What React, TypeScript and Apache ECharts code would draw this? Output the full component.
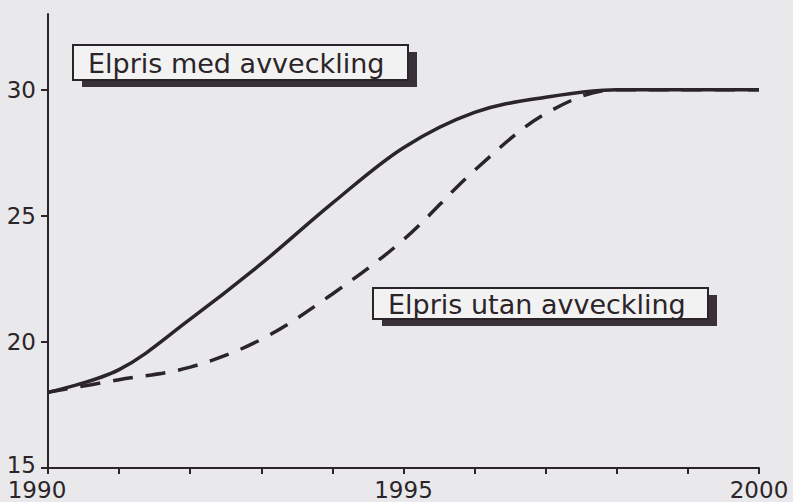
import React, { useEffect, useRef } from "react";
import * as echarts from "echarts";

const years = [1990, 1991, 1992, 1993, 1994, 1995, 1996, 1997, 1998, 1999, 2000];
const medAvveckling = [18.0, 18.9, 20.9, 23.1, 25.5, 27.7, 29.1, 29.7, 30.0, 30.0, 30.0];
const utanAvveckling = [18.0, 18.5, 19.0, 20.1, 21.9, 24.05, 26.8, 29.05, 30.0, 30.0, 30.0];
const yTickLabels = [15, 20, 25, 30];
const xTickLabels = [1990, 1995, 2000];
const labelMed = "Elpris med avveckling";
const labelUtan = "Elpris utan avveckling";

const INK = "#2b2429";
const BG = "#e9e9eb";
const FONT = "DejaVu Sans";

function labelBox(text: string, x: number, y: number, w: number, h: number) {
  return {
    type: "group",
    x,
    y,
    children: [
      { type: "rect", shape: { x: 9, y: 7, width: w, height: h }, style: { fill: "#3a3038" } },
      { type: "rect", shape: { x: 0, y: 0, width: w, height: h }, style: { fill: "#f2f2f2", stroke: INK, lineWidth: 2 } },
      {
        type: "text",
        x: 15,
        y: h / 2 + 1,
        style: { text, fill: INK, font: `27px '${FONT}'`, verticalAlign: "middle", align: "left" },
      },
    ],
  };
}

export default function App() {
  const ref = useRef<HTMLDivElement>(null);
  useEffect(() => {
    document.body.style.margin = "0";
    const chart = echarts.init(ref.current!, undefined, { renderer: "svg" });
    chart.setOption({
      animation: false,
      backgroundColor: BG,
      grid: { left: 48, right: 34, top: 14, bottom: 34 },
      xAxis: {
        type: "value",
        min: 1990,
        max: 2000,
        interval: 1,
        splitLine: { show: false },
        axisLine: { lineStyle: { color: INK, width: 2 } },
        axisTick: { show: true, length: 6, lineStyle: { color: INK, width: 2 } },
        axisLabel: {
          customValues: xTickLabels,
          margin: 12,
          color: INK,
          fontFamily: FONT,
          fontSize: 23,
          lineHeight: 19,
          formatter: (v: number) => (v === 1990 ? `{l|${v}}` : `${v}`),
          rich: { l: { padding: [0, 22, 0, 0], fontFamily: FONT, fontSize: 23, lineHeight: 19, color: INK } },
        },
      },
      yAxis: {
        type: "value",
        min: 15,
        max: 33,
        interval: 5,
        splitLine: { show: false },
        axisLine: { show: true, lineStyle: { color: INK, width: 2 } },
        axisTick: { show: true, customValues: yTickLabels, length: 7, lineStyle: { color: INK, width: 2 } },
        axisLabel: {
          customValues: yTickLabels,
          margin: 12,
          color: INK,
          fontFamily: FONT,
          fontSize: 23,
          lineHeight: 16,
          formatter: (v: number) => (v === 15 ? `{b|${v}}` : `${v}`),
          rich: { b: { padding: [0, 0, 6, 0], fontFamily: FONT, fontSize: 23, lineHeight: 16, color: INK } },
        },
      },
      series: [
        {
          type: "line",
          name: labelMed,
          data: years.map((y, i) => [y, medAvveckling[i]]),
          smooth: 0.35,
          showSymbol: false,
          lineStyle: { color: INK, width: 3.5 },
        },
        {
          type: "line",
          name: labelUtan,
          data: years.map((y, i) => [y, utanAvveckling[i]]),
          smooth: 0.35,
          showSymbol: false,
          lineStyle: { color: INK, width: 3.5, type: [20, 13] },
        },
      ],
      graphic: [labelBox(labelMed, 73, 45, 335, 35), labelBox(labelUtan, 373, 288, 335, 31)],
    });
    return () => chart.dispose();
  }, []);
  return <div ref={ref} style={{ width: 793, height: 502 }} />;
}
